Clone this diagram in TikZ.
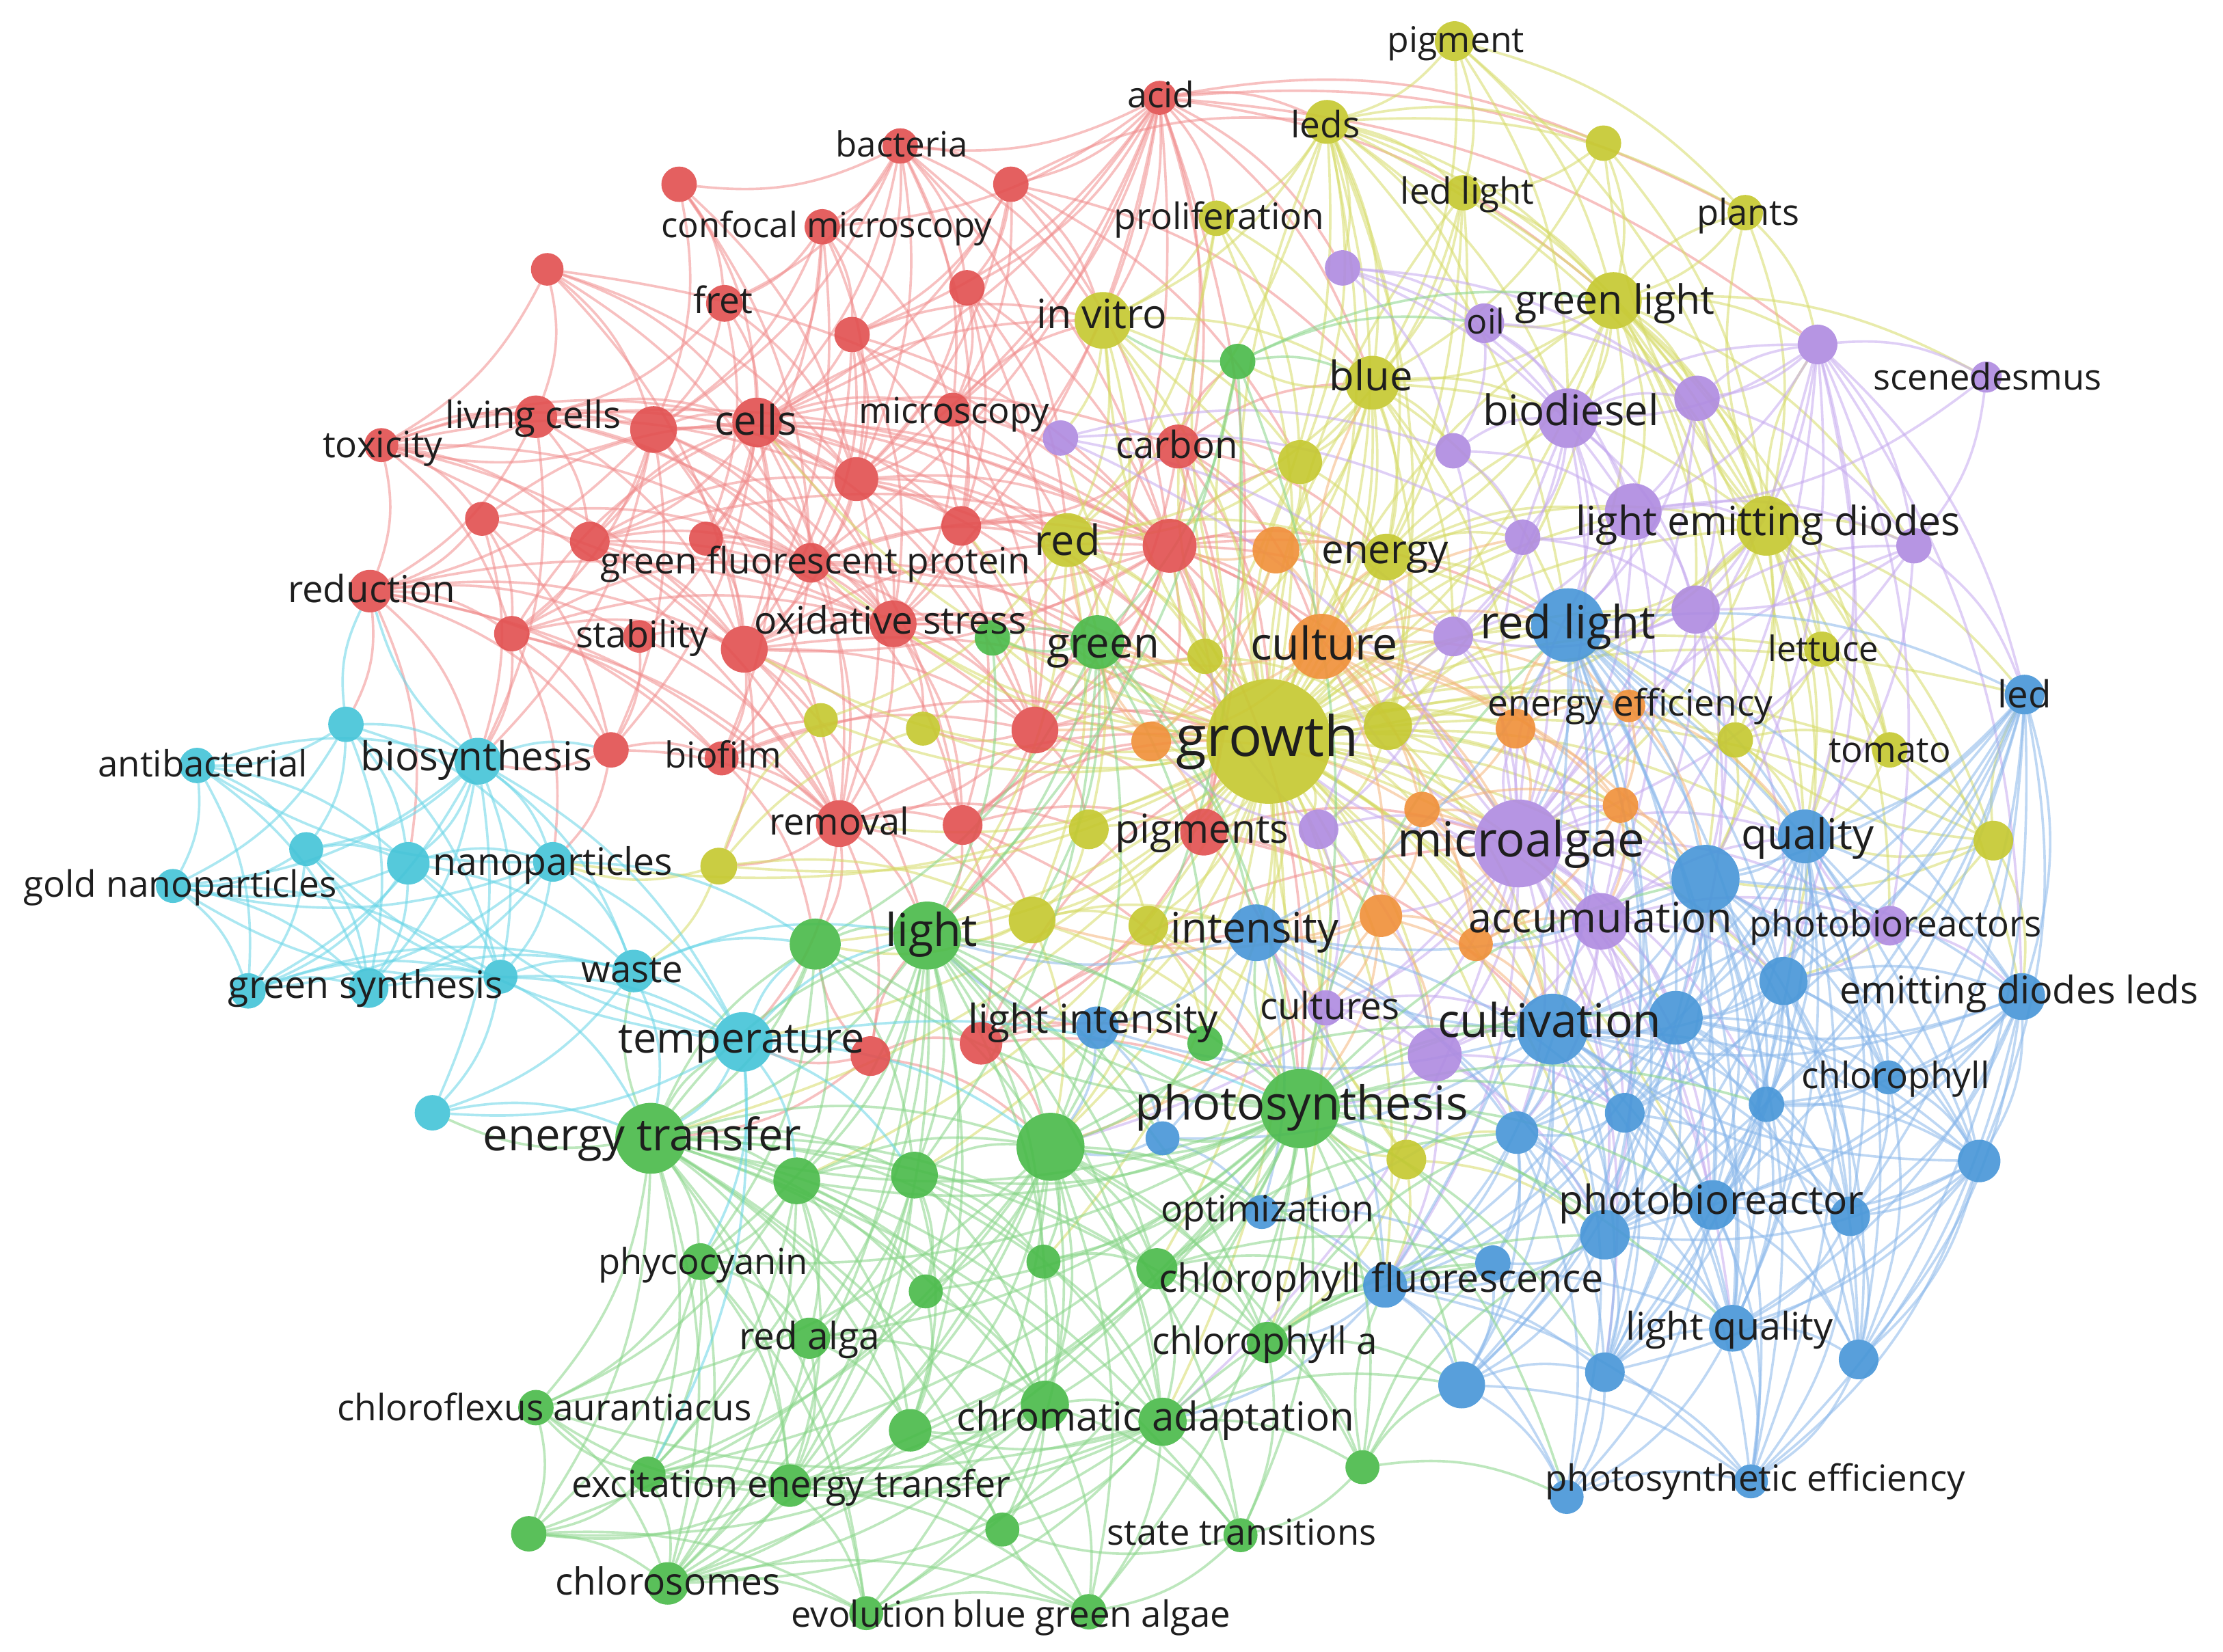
\documentclass[tikz,border=0pt]{standalone}
\usepackage{fontspec}
\setmainfont{Open Sans}
\pgfdeclarelayer{edgelayer}
\pgfsetlayers{edgelayer,main}
\definecolor{cR}{HTML}{E25252}
\definecolor{cG}{HTML}{4CBB4C}
\definecolor{cB}{HTML}{4A97D8}
\definecolor{cY}{HTML}{C6C932}
\definecolor{cP}{HTML}{B08CE1}
\definecolor{cC}{HTML}{46C4D8}
\definecolor{cO}{HTML}{F0913C}
\definecolor{eRc}{HTML}{F08C8C}
\definecolor{eGc}{HTML}{86D486}
\definecolor{eBc}{HTML}{88B6EA}
\definecolor{eYc}{HTML}{D5DA66}
\definecolor{ePc}{HTML}{C4A8EE}
\definecolor{eCc}{HTML}{66D4E6}
\definecolor{eOc}{HTML}{F4B47A}
\definecolor{txt}{HTML}{1E1E1E}
\tikzset{
  nd/.style={circle,inner sep=0pt,outer sep=0pt,draw=none,fill opacity=0.92},
  lab/.style={inner sep=0pt,text=txt,anchor=base},
  edgebase/.style={line width=0.5pt,opacity=0.55,bend left=16},
  eR/.style={edgebase,draw=eRc},
  eG/.style={edgebase,draw=eGc},
  eB/.style={edgebase,draw=eBc},
  eY/.style={edgebase,draw=eYc},
  eP/.style={edgebase,draw=ePc},
  eC/.style={edgebase,draw=eCc},
  eO/.style={edgebase,draw=eOc},
}
\newcommand{\kwnode}[5]{\node[nd,fill=#5,minimum size=#4*0.2mm] (#1) at (#2,#3) {};}
\newcommand{\kwlab}[5]{\node[lab,font=\fontsize{#4pt}{#4pt}\selectfont] (L#1) at (#2,{#3+0.95*#4}) {#5};}
\newcommand{\links}[3]{\foreach \kwt in {#3}{\draw[#1] (#2) to (\kwt);}}
\begin{document}
\begin{tikzpicture}[x=0.1mm,y=-0.1mm]
\useasboundingbox (0,0) rectangle (1568,1165);
% ---------- red cluster
\kwnode{R1}{818}{69}{12}{cR}
\kwnode{R2}{635}{103}{12.5}{cR}
\kwnode{R3}{479}{130}{12.5}{cR}
\kwnode{R4}{713}{130}{12.5}{cR}
\kwnode{R5}{580}{160}{12.5}{cR}
\kwnode{R6}{386}{190}{11.5}{cR}
\kwnode{R7}{511}{214}{13}{cR}
\kwnode{R8}{682}{203}{12.5}{cR}
\kwnode{R9}{601}{236}{12.5}{cR}
\kwnode{R10}{378}{294}{15}{cR}
\kwnode{R11}{461}{303}{16.5}{cR}
\kwnode{R12}{534}{298}{17.5}{cR}
\kwnode{R13}{269}{314}{12}{cR}
\kwnode{R14}{672}{289}{12}{cR}
\kwnode{R15}{831}{315}{15.5}{cR}
\kwnode{R16}{604}{338}{15.5}{cR}
\kwnode{R17}{340}{366}{12}{cR}
\kwnode{R18}{416}{382}{14}{cR}
\kwnode{R19}{498}{380}{12}{cR}
\kwnode{R20}{678}{371}{14}{cR}
\kwnode{R21}{825}{385}{19}{cR}
\kwnode{R22}{572}{397}{14}{cR}
\kwnode{R23}{261}{417}{15}{cR}
\kwnode{R24}{361}{447}{12.5}{cR}
\kwnode{R25}{451}{449}{11.5}{cR}
\kwnode{R26}{525}{458}{16.5}{cR}
\kwnode{R27}{630}{440}{16.5}{cR}
\kwnode{R28}{431}{529}{12.5}{cR}
\kwnode{R29}{509}{535}{12}{cR}
\kwnode{R30}{730}{515}{16.5}{cR}
\kwnode{R31}{592}{581}{16.5}{cR}
\kwnode{R32}{679}{582}{14}{cR}
\kwnode{R33}{849}{587}{16.5}{cR}
\kwnode{R34}{614}{745}{14}{cR}
\kwnode{R35}{692}{736}{15}{cR}
% ---------- yellow cluster
\kwnode{Y1}{1026}{29}{14}{cY}
\kwnode{Y2}{936}{86}{15.5}{cY}
\kwnode{Y3}{1131}{101}{12.5}{cY}
\kwnode{Y4}{1032}{136}{12.5}{cY}
\kwnode{Y5}{858}{154}{12.5}{cY}
\kwnode{Y6}{1231}{150}{12.5}{cY}
\kwnode{Y7}{778}{226}{20}{cY}
\kwnode{Y8}{1138}{212}{20}{cY}
\kwnode{Y9}{968}{270}{19}{cY}
\kwnode{Y10}{917}{326}{15.5}{cY}
\kwnode{Y11}{753}{381}{19}{cY}
\kwnode{Y12}{978}{393}{16.5}{cY}
\kwnode{Y13}{1246}{371}{21}{cY}
\kwnode{Y14}{850}{463}{12.5}{cY}
\kwnode{Y15}{1285}{458}{12.5}{cY}
\kwnode{Y16}{895}{523}{44}{cY}
\kwnode{Y17}{979}{512}{17}{cY}
\kwnode{Y18}{579}{508}{12}{cY}
\kwnode{Y19}{651}{514}{12}{cY}
\kwnode{Y20}{768}{585}{14}{cY}
\kwnode{Y21}{507}{611}{13}{cY}
\kwnode{Y22}{728}{649}{16.5}{cY}
\kwnode{Y23}{810}{653}{14}{cY}
\kwnode{Y24}{1224}{522}{12.5}{cY}
\kwnode{Y25}{1333}{529}{12.5}{cY}
\kwnode{Y26}{1406}{593}{14}{cY}
\kwnode{Y27}{992}{818}{14}{cY}
% ---------- purple cluster
\kwnode{P1}{947}{189}{12.5}{cP}
\kwnode{P2}{1047}{228}{14}{cP}
\kwnode{P3}{748}{309}{12.5}{cP}
\kwnode{P4}{1025}{318}{12.5}{cP}
\kwnode{P5}{1106}{295}{21}{cP}
\kwnode{P6}{1197}{281}{16}{cP}
\kwnode{P7}{1282}{243}{14}{cP}
\kwnode{P8}{1401}{266}{11}{cP}
\kwnode{P9}{1152}{361}{20}{cP}
\kwnode{P10}{1074}{379}{12.5}{cP}
\kwnode{P11}{1350}{385}{12.5}{cP}
\kwnode{P12}{1196}{430}{17}{cP}
\kwnode{P13}{1025}{449}{14}{cP}
\kwnode{P14}{930}{585}{14}{cP}
\kwnode{P15}{1071}{595}{31}{cP}
\kwnode{P16}{1129}{650}{20}{cP}
\kwnode{P17}{1333}{653}{14}{cP}
\kwnode{P18}{935}{711}{12.5}{cP}
\kwnode{P19}{1012}{744}{19}{cP}
% ---------- orange cluster
\kwnode{O1}{900}{388}{16.5}{cO}
\kwnode{O2}{932}{456}{23}{cO}
\kwnode{O3}{812}{523}{14}{cO}
\kwnode{O4}{1069}{514}{14}{cO}
\kwnode{O5}{1149}{498}{11.5}{cO}
\kwnode{O6}{1003}{571}{12.5}{cO}
\kwnode{O7}{1143}{568}{12.5}{cO}
\kwnode{O8}{974}{646}{15}{cO}
\kwnode{O9}{1041}{666}{12}{cO}
% ---------- blue cluster
\kwnode{B1}{1106}{441}{26}{cB}
\kwnode{B2}{1428}{490}{14}{cB}
\kwnode{B3}{1273}{590}{19}{cB}
\kwnode{B4}{1203}{620}{24}{cB}
\kwnode{B5}{1258}{692}{17}{cB}
\kwnode{B6}{1426}{703}{16.5}{cB}
\kwnode{B7}{1182}{718}{19}{cB}
\kwnode{B8}{1095}{726}{25}{cB}
\kwnode{B9}{886}{658}{20}{cB}
\kwnode{B10}{774}{725}{15}{cB}
\kwnode{B11}{1332}{760}{12}{cB}
\kwnode{B12}{1246}{779}{12.5}{cB}
\kwnode{B13}{1146}{785}{14}{cB}
\kwnode{B14}{1070}{799}{15}{cB}
\kwnode{B15}{820}{803}{12}{cB}
\kwnode{B16}{1396}{819}{15}{cB}
\kwnode{B17}{890}{855}{12}{cB}
\kwnode{B18}{1132}{871}{17.5}{cB}
\kwnode{B19}{1208}{850}{17.5}{cB}
\kwnode{B20}{1305}{858}{14}{cB}
\kwnode{B21}{1053}{891}{12.5}{cB}
\kwnode{B22}{977}{907}{15.5}{cB}
\kwnode{B23}{1031}{977}{16.5}{cB}
\kwnode{B24}{1132}{968}{14}{cB}
\kwnode{B25}{1222}{937}{16.5}{cB}
\kwnode{B26}{1311}{959}{14}{cB}
\kwnode{B27}{1105}{1056}{12}{cB}
\kwnode{B28}{1235}{1045}{12}{cB}
% ---------- green cluster
\kwnode{G1}{873}{255}{12.5}{cG}
\kwnode{G2}{700}{450}{12.5}{cG}
\kwnode{G3}{774}{453}{19}{cG}
\kwnode{G4}{575}{666}{18}{cG}
\kwnode{G5}{654}{660}{24}{cG}
\kwnode{G6}{850}{736}{12.5}{cG}
\kwnode{G7}{917}{782}{28}{cG}
\kwnode{G8}{459}{803}{25}{cG}
\kwnode{G9}{562}{833}{16.5}{cG}
\kwnode{G10}{645}{829}{16.5}{cG}
\kwnode{G11}{741}{809}{24}{cG}
\kwnode{G12}{494}{890}{13}{cG}
\kwnode{G13}{736}{890}{12}{cG}
\kwnode{G14}{653}{911}{12}{cG}
\kwnode{G15}{571}{944}{14.5}{cG}
\kwnode{G16}{816}{895}{14.5}{cG}
\kwnode{G17}{894}{947}{14.5}{cG}
\kwnode{G18}{737}{991}{17}{cG}
\kwnode{G19}{820}{1003}{17}{cG}
\kwnode{G20}{642}{1009}{15}{cG}
\kwnode{G21}{457}{1040}{12.5}{cG}
\kwnode{G22}{557}{1048}{15}{cG}
\kwnode{G23}{707}{1079}{12}{cG}
\kwnode{G24}{961}{1035}{12}{cG}
\kwnode{G25}{378}{993}{12.5}{cG}
\kwnode{G26}{373}{1082}{12.5}{cG}
\kwnode{G27}{875}{1083}{12}{cG}
\kwnode{G28}{471}{1117}{15}{cG}
\kwnode{G29}{611}{1138}{12}{cG}
\kwnode{G30}{768}{1137}{12.5}{cG}
% ---------- cyan cluster
\kwnode{C1}{244}{511}{12.5}{cC}
\kwnode{C2}{139}{540}{12.5}{cC}
\kwnode{C3}{337}{537}{16.5}{cC}
\kwnode{C4}{216}{599}{12}{cC}
\kwnode{C5}{288}{609}{15}{cC}
\kwnode{C6}{390}{608}{14}{cC}
\kwnode{C7}{122}{625}{12}{cC}
\kwnode{C8}{175}{699}{12.5}{cC}
\kwnode{C9}{260}{697}{14}{cC}
\kwnode{C10}{353}{689}{12}{cC}
\kwnode{C11}{447}{685}{15}{cC}
\kwnode{C12}{524}{735}{21}{cC}
\kwnode{C13}{305}{785}{12.5}{cC}
% ================= edges
\begin{pgfonlayer}{edgelayer}
% red
\links{eR}{R1}{R2,R4,R5,R8,R9,R12,R14,R15,R16,R20,R21,R22,R27,R30,R33,Y2,Y3,Y5,Y7,Y8,Y6,P1,P7,Y9}
\links{eR}{R2}{R3,R4,R5,R7,R8,R9,R11,R12,R16,R14,R20,Y7,R21,P3}
\links{eR}{R3}{R7,R12,R11,R16,R22}
\links{eR}{R4}{R8,R9,Y7,R21,Y9,R14,Y10,Y2,R16,R12}
\links{eR}{R5}{R7,R9,R11,R12,R16,R14,R26,R19}
\links{eR}{R6}{R10,R13,R11,R22,R26,R12,R16,R21}
\links{eR}{R7}{R12,R11,R19,R10,R16}
\links{eR}{R8}{R16,R20,R21,Y11,R14,R30}
\links{eR}{R9}{R12,R16,R26,R22,R20,Y7,R21,R27}
\links{eR}{R10}{R13,R11,R12,R18,R23,R21,R22,R16,R26,R27,C3}
\links{eR}{R11}{R12,R13,R18,R24,R23,R26,R28,C3,R22,R16,R21,R27,R31}
\links{eR}{R12}{R14,R16,R18,R19,R20,R21,R22,R26,R27,R29,R30,R31,R15,Y11,Y16,R25,R28,R32,Y7}
\links{eR}{R13}{R17,R23,R24,R26,R12,R22,R18,R31,R11,R10,R16}
\links{eR}{R14}{R16,R20,R21,Y11,Y7,R30,R27}
\links{eR}{R15}{R21,R20,R30,Y16,Y10,O1,G1,R33,Y9,Y12,O2}
\links{eR}{R16}{R20,R22,R26,R27,R30,R21,R31,Y11,Y16,G3}
\links{eR}{R17}{R23,R24,R12,R26,R28,C3,R22}
\links{eR}{R18}{R22,R24,R26,R31,R27,R12,R16,R30,R21}
\links{eR}{R19}{R26,R22,R27}
\links{eR}{R20}{R27,R30,R21,Y11,R32}
\links{eR}{R21}{R27,R30,R33,R32,Y16,O2,R22,R26,Y11,G3,O3,Y14,P15,G5,G7,B1,O1,Y10,Y12,P13,Y17}
\links{eR}{R22}{R27,R26,R31,R30,R29,R32,Y16,Y11,G3,R21}
\links{eR}{R23}{R24,R28,R26,C1,C3,R25,R31,R29,C5,R27}
\links{eR}{R24}{R26,R28,R29,R31,R12,R22,R27,C3,C6}
\links{eR}{R25}{R26,R28,R31}
\links{eR}{R26}{R27,R29,R31,R30,R32,Y18,Y21,Y16,G5,G3,R21}
\links{eR}{R27}{R30,R31,R32,Y16,G3,G2,Y19}
\links{eR}{R28}{R29,R31,C3,C6}
\links{eR}{R29}{R31,Y18,Y16,R30,G4}
\links{eR}{R30}{R31,R32,R33,Y16,G5,Y20,O3,Y14,G3,Y19}
\links{eR}{R31}{R32,R34,G5,Y21,Y22,Y16,G4,C12,Y20}
\links{eR}{R32}{R33,R35,G5,Y16,G7,Y22,O3}
\links{eR}{R33}{Y16,P15,G7,B8,O8,R35}
\links{eR}{R34}{R35,G5,C12,G4,G11,G8}
\links{eR}{R35}{B9,G7,G6,G11,B10,Y16,P15}
% yellow
\links{eY}{Y1}{Y2,Y4,Y8,Y6,Y9,P5,Y13}
\links{eY}{Y2}{Y4,Y5,Y7,Y8,Y9,Y10,Y12,Y13,Y16,Y3,P1,Y11,B1,P5,Y17,Y14,Y6,P2,P6,O2}
\links{eY}{Y3}{Y8,Y13,Y9,Y4}
\links{eY}{Y4}{Y8,Y9,Y13,Y16,Y12,Y10}
\links{eY}{Y5}{Y7,Y9,Y16,Y10,Y11}
\links{eY}{Y6}{Y8,Y13,P7}
\links{eY}{Y7}{Y11,Y9,Y16,Y10,Y14,Y17,G3,P3}
\links{eY}{Y8}{Y9,Y13,Y16,Y12,Y15,P5,P6,B1,Y17,P9,Y24,Y25,B3,P2,P7,P11,P12,B4,Y6,P8}
\links{eY}{Y9}{Y10,Y12,Y16,Y13,Y17,B1,Y14,O1,O2,P4,P5,P13,O4,Y11,G1}
\links{eY}{Y10}{Y12,Y16,Y11,O1}
\links{eY}{Y11}{Y16,Y12,Y14,Y18,Y19,Y20,G3,G5,Y22}
\links{eY}{Y12}{Y16,Y13,Y17,O2,B1,P10,P9,B3,O4}
\links{eY}{Y13}{Y15,Y16,Y24,Y25,B1,B3,Y26,B4,B2,B6,Y17,P12,P15,P6,P7,P11,Y6,Y3,B5,P17}
\links{eY}{Y14}{Y16,G3,O3,G2,Y17}
\links{eY}{Y15}{Y24,B3,Y25}
\links{eY}{Y16}{R21,R30,R33,R27,R12,R15,Y11,Y7,Y9,Y10,Y12,Y14,Y17,Y18,Y19,Y20,Y21,Y22,Y23,Y27,Y13,Y24,G3,G5,G7,G11,G4,G6,G16,G17,G19,O1,O2,O3,O4,O6,O8,O9,P14,P15,P16,P18,P19,P13,P9,P5,B1,B3,B4,B7,B8,B9,B10,B13,B14,B18,B22,C12,C6,R31,R26,G1,P3,Y4,Y5,G8,G10}
\links{eY}{Y16}{B5,B19,P12,P10,Y15,Y26,Y25,O5,O7,B2,G9,G13,G2,R22,R20,Y8,Y2}
\links{eY}{Y17}{O4,B1,P15,P13,O6,B4,B8,P14}
\links{eY}{Y20}{Y22,Y23}
\links{eY}{Y21}{Y18,Y19,Y22,C6,C11}
\links{eY}{Y22}{Y23,G5,G7,G4,G11,B9}
\links{eY}{Y23}{G7,B9,G11,G6,Y27}
\links{eY}{Y24}{Y25,B3,B4}
\links{eY}{Y25}{Y26,B3}
\links{eY}{Y26}{B2,B6,B3,Y13,B4,B5,Y24}
\links{eY}{Y27}{Y16,G7,B22,B14,G17,B18}
% purple
\links{eP}{P1}{P2,P5,P9,P6,P4}
\links{eP}{P2}{P5,P4,P9,P6}
\links{eP}{P3}{P10,P13,P15,P4}
\links{eP}{P4}{P5,P9,P10,P13}
\links{eP}{P5}{P6,P7,P9,P10,P12,P15,P13,P16,B1}
\links{eP}{P6}{P7,P9,P12,P15,P11,B1}
\links{eP}{P7}{P8,P9,P11,P12,P15,P16,P17,B6,B2,P5,P6,B3,B4,B5}
\links{eP}{P8}{P9,P11}
\links{eP}{P9}{P10,P11,P12,P13,P15,P16,B1,Y13}
\links{eP}{P10}{P12,P13,P15}
\links{eP}{P11}{P12,P15,B2,B3}
\links{eP}{P12}{P15,P16,P13,B3,B4,Y13,B1,B5,P11,B7}
\links{eP}{P13}{P15,P14,P16}
\links{eP}{P14}{P15,P18,P19,P13,O3,Y14}
\links{eP}{P15}{P16,P17,P18,P19,B4,B8,B7,B3,B5,B13,B18,B19,O2,O4,O6,O7,O8,O9,G7,G11,B1,B14,B12,B25,B24,Y16,Y12,P5,P9,P11,G19,B22}
\links{eP}{P16}{P17,P19,B4,B8,B7,B5,B3,B13,B18,B19,O9,B14}
\links{eP}{P17}{B3,B4,B6,B5}
\links{eP}{P18}{P19,B8,G7}
\links{eP}{P19}{B8,B14,B13,B18,B22,G7,B9}
% orange
\links{eO}{O1}{O2,O3,R21,Y12}
\links{eO}{O2}{O3,O4,O6,O8,O5,P15,B1,P13,G3,Y17,O9,O7,B4,Y12,Y9,P10,R30}
\links{eO}{O3}{O6,Y16,Y11,R33,G3}
\links{eO}{O4}{O5,O7,P15,B1,O6}
\links{eO}{O5}{O7,B1,B3,B4}
\links{eO}{O6}{O8,O9,P15,O7,P16,B8,B9}
\links{eO}{O7}{O9,B4,P16}
\links{eO}{O8}{O9,B8,B9,G7,P18,P19,G11,Y22}
\links{eO}{O9}{B8,P16}
% blue
\links{eB}{B1}{B3,B4,B7,B8,B2,B5,B6,B12,B19,B13,B25,P15,B9,B14,B18,B22,B24,B11,B16}
\links{eB}{B2}{B3,B4,B5,B6,B16,B11,B7,B19,B20,B12,B8,B13,B18,B26}
\links{eB}{B3}{B4,B5,B6,B7,B8,B11,B12,B19,B20,B16,B25,B13,B18,B24,B26,B28,B14}
\links{eB}{B4}{B5,B7,B8,B12,B13,B18,B19,B25,B11,B16,B6,B14,B24,B20,B23,B22,B28,B26,B9}
\links{eB}{B5}{B7,B11,B12,B19,B20,B6,B16,B26,B8,B13,B18,B24,B25}
\links{eB}{B6}{B11,B16,B20,B19,B12,B26,B7,B8,B25,B28,B18}
\links{eB}{B7}{B8,B12,B13,B14,B18,B19,B25,B24,B20,B22,B23,B26,B28,B16,B11}
\links{eB}{B8}{B13,B14,B18,B19,B21,B22,B9,B24,B23,B25,B10,B15,B17,B12,B20,B26,B27,B28,B16}
\links{eB}{B9}{B10,B15,B17,B22,G5,B13,B14,B18}
\links{eB}{B10}{B15,G5,G11}
\links{eB}{B11}{B16,B20,B12,B26}
\links{eB}{B12}{B19,B20,B16,B25,B18,B24,B26}
\links{eB}{B13}{B19,B18,B14,B24,B20,B22,B25,B23}
\links{eB}{B14}{B18,B22,B21,B23,B25,B24,B27}
\links{eB}{B15}{B17,G11}
\links{eB}{B16}{B19,B20,B26,B28,B8,B18,B24,B25}
\links{eB}{B17}{B22,B21}
\links{eB}{B18}{B19,B21,B22,B23,B24,B25}
\links{eB}{B19}{B20,B24,B25,B26,B28,B27}
\links{eB}{B20}{B25,B26,B28}
\links{eB}{B21}{B22,B23}
\links{eB}{B22}{B23,B24,G17,G19,B27,B28,B25}
\links{eB}{B23}{B24,B27,B28}
\links{eB}{B24}{B25,B27,B28}
\links{eB}{B25}{B26,B28,B27}
\links{eB}{B26}{B28}
\links{eB}{B27}{B28}
% green
\links{eG}{G1}{G3,G7,Y7,G5,Y9,G11,P2,Y8}
\links{eG}{G2}{G3,G5}
\links{eG}{G3}{G5,G7,G11,G2,G4,G6,G10,B9,Y22}
\links{eG}{G4}{G5,G8,G9,G10,G11,G12,C12}
\links{eG}{G5}{G7,G8,G9,G10,G11,G12,G15,G13,G6,G14,G18,G19,G22,G16,G17,G20,G21,G28,B15}
\links{eG}{G6}{G7,G11}
\links{eG}{G7}{G8,G9,G10,G11,G13,G16,G17,G18,G19,G22,B8,B22,G24,G27,G14,G20,B1,B4,B7,B14,B13,B18,B19,B25,B15,B17,B23,B21,G5,G12,G15,G28,G21,G30,G29,B24,B27,B12,B9,B10,G4}
\links{eG}{G8}{G9,G10,G11,G12,G15,G14,G20,G21,G22,G25,G26,G28,G19,G18,G13,C12,C11,C13,G4,G5,G29,G30,G23,G27,G16,G17}
\links{eG}{G9}{G10,G11,G12,G15,G14,G22,G20,G21,G28,G25,G18}
\links{eG}{G10}{G11,G13,G14,G15,G18,G20,G22,G28,G19}
\links{eG}{G11}{G13,G14,G16,G17,G18,G19,G20,G22,B8,G21,G25,G26,G28,G29,G30,G23,G27,G24,B22,B17}
\links{eG}{G12}{G15,G22,G28,G21,G25,G26,G29}
\links{eG}{G13}{G16,G18,G19}
\links{eG}{G14}{G15,G20,G18}
\links{eG}{G15}{G20,G22,G28,G18}
\links{eG}{G16}{G17,G19,G22,B21,B22,B14}
\links{eG}{G17}{G19,G24,G27,B23,B14,B18,B21,B22}
\links{eG}{G18}{G19,G20,G22,G23,G30,G21,G26,G28,G29,G27}
\links{eG}{G19}{G20,G22,G23,G24,G27,G30,B23,G21,G25,G28,G29,B21}
\links{eG}{G20}{G22,G23,G28}
\links{eG}{G21}{G22,G25,G26,G28}
\links{eG}{G22}{G23,G28,G29,G25,G26,G30}
\links{eG}{G24}{B23,B27,B22,B21,B18,G27}
\links{eG}{G25}{G26,G28}
\links{eG}{G26}{G28,G29}
\links{eG}{G27}{G30,G23}
\links{eG}{G28}{G29,G30}
\links{eG}{G29}{G30}
\links{eG}{G30}{G23}
% cyan
\links{eC}{C1}{C2,C3,C5,C4,C6,C7,C9,C10,R23}
\links{eC}{C2}{C4,C5,C7,C8,C3,C9}
\links{eC}{C3}{C4,C5,C6,C9,C10,C11,C12,C7,C8,R28,R23,C13}
\links{eC}{C4}{C5,C7,C8,C9}
\links{eC}{C5}{C6,C7,C8,C9,C10,C11}
\links{eC}{C6}{C9,C10,C11,C12,C7,C8,C2,G4}
\links{eC}{C7}{C8,C9,C10}
\links{eC}{C8}{C9,C10,C11}
\links{eC}{C9}{C10,C11,C12}
\links{eC}{C10}{C11,C12,C13,C7,C4,G8}
\links{eC}{C11}{C12,G4,G5,G8,C13}
\links{eC}{C12}{C13,G8,G11,G7,G5,G4,G9,G10,G12,C5,C4,R34,G21}
\links{eC}{C13}{G8}
\end{pgfonlayer}
% ================= labels
\kwlab{R1}{819}{69}{7.1}{acid}
\kwlab{R2}{636}{104}{7.0}{bacteria}
\kwlab{R5}{583}{161}{7.0}{confocal microscopy}
\kwlab{R7}{510}{214}{7.3}{fret}
\kwlab{R10}{376}{295}{7.5}{living cells}
\kwlab{R12}{533}{299}{8.2}{cells}
\kwlab{R13}{270}{316}{7.3}{toxicity}
\kwlab{R14}{673}{292}{7.2}{microscopy}
\kwlab{R15}{830}{316}{7.5}{carbon}
\kwlab{R22}{575}{398}{7.3}{green fluorescent protein}
\kwlab{R23}{262}{418}{7.5}{reduction}
\kwlab{R25}{453}{450}{7.4}{stability}
\kwlab{R27}{628}{440}{7.6}{oxidative stress}
\kwlab{R29}{510}{535}{7.2}{biofilm}
\kwlab{R31}{592}{582}{7.45}{removal}
\kwlab{R33}{848}{587}{8.0}{pigments}
\kwlab{Y1}{1027}{30}{7.1}{pigment}
\kwlab{Y2}{935}{90}{7.3}{leds}
\kwlab{Y4}{1035}{137}{7.25}{led light}
\kwlab{Y5}{860}{155}{7.3}{proliferation}
\kwlab{Y6}{1233}{152}{7.2}{plants}
\kwlab{Y7}{777}{224}{8.1}{in vitro}
\kwlab{Y8}{1139}{214}{8.1}{green light}
\kwlab{Y9}{967}{268}{8.2}{blue}
\kwlab{Y11}{753}{384}{8.4}{red}
\kwlab{Y12}{977}{390}{8.0}{energy}
\kwlab{Y13}{1247}{370}{8.1}{light emitting diodes}
\kwlab{Y15}{1286}{460}{7.0}{lettuce}
\kwlab{Y16}{894}{523}{11.2}{growth}
\kwlab{Y25}{1333}{531}{7.2}{tomato}
\kwlab{P2}{1048}{229}{6.9}{oil}
\kwlab{P5}{1108}{292}{8.45}{biodiesel}
\kwlab{P8}{1402}{268}{7.2}{scenedesmus}
\kwlab{P15}{1073}{595}{9.7}{microalgae}
\kwlab{P16}{1129}{650}{8.4}{accumulation}
\kwlab{P17}{1337}{654}{7.25}{photobioreactors}
\kwlab{P18}{938}{712}{7.5}{cultures}
\kwlab{O2}{934}{457}{9.1}{culture}
\kwlab{O5}{1150}{498}{7.3}{energy efficiency}
\kwlab{B1}{1106}{442}{9.2}{red light}
\kwlab{B2}{1428}{492}{7.5}{led}
\kwlab{B3}{1275}{591}{8.45}{quality}
\kwlab{B6}{1424}{701}{7.65}{emitting diodes leds}
\kwlab{B8}{1093}{723}{9.3}{cultivation}
\kwlab{B9}{885}{657}{8.45}{intensity}
\kwlab{B10}{771}{721}{8.0}{light intensity}
\kwlab{B11}{1337}{761}{7.3}{chlorophyll}
\kwlab{B17}{894}{855}{7.3}{optimization}
\kwlab{B19}{1207}{849}{8.05}{photobioreactor}
\kwlab{B22}{974}{904}{7.85}{chlorophyll fluorescence}
\kwlab{B25}{1220}{938}{7.65}{light quality}
\kwlab{B28}{1238}{1045}{7.25}{photosynthetic efficiency}
\kwlab{G3}{778}{456}{8.45}{green}
\kwlab{G5}{657}{659}{9.1}{light}
\kwlab{G7}{918}{781}{9.4}{photosynthesis}
\kwlab{G8}{453}{803}{8.95}{energy transfer}
\kwlab{G12}{496}{892}{7.2}{phycocyanin}
\kwlab{G15}{571}{945}{7.55}{red alga}
\kwlab{G17}{892}{948}{7.55}{chlorophyll a}
\kwlab{G19}{815}{1002}{8.0}{chromatic adaptation}
\kwlab{G22}{558}{1049}{7.4}{excitation energy transfer}
\kwlab{G25}{384}{995}{7.3}{chloroflexus aurantiacus}
\kwlab{G27}{876}{1083}{7.2}{state transitions}
\kwlab{G28}{471}{1118}{7.55}{chlorosomes}
\kwlab{G29}{613}{1141}{7.2}{evolution}
\kwlab{G30}{770}{1141}{7.25}{blue green algae}
\kwlab{C2}{143}{541}{7.25}{antibacterial}
\kwlab{C3}{336}{536}{8.0}{biosynthesis}
\kwlab{C6}{390}{610}{7.6}{nanoparticles}
\kwlab{C7}{127}{626}{7.3}{gold nanoparticles}
\kwlab{C9}{258}{697}{7.6}{green synthesis}
\kwlab{C11}{446}{686}{7.5}{waste}
\kwlab{C12}{523}{735}{8.4}{temperature}
\end{tikzpicture}
\end{document}
